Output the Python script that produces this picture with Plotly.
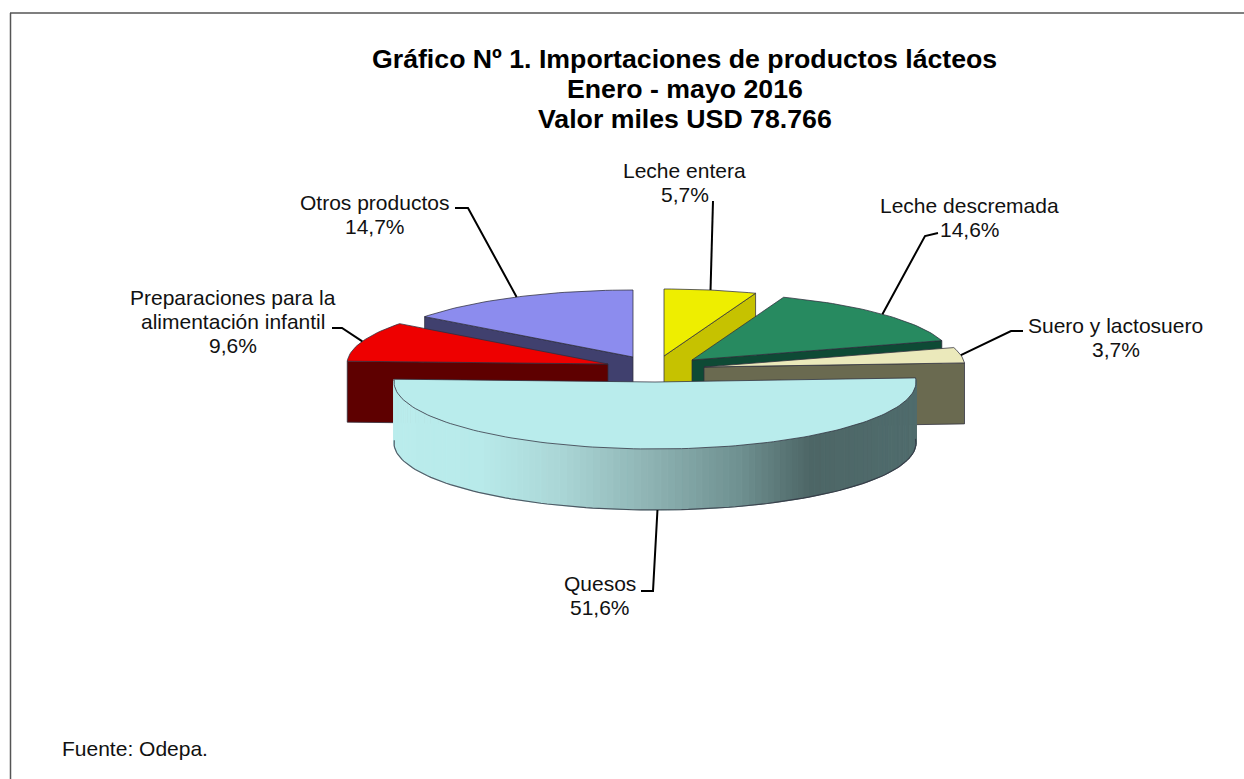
import math
import plotly.graph_objects as go

# ---- data ----
categories = [["Leche entera"], ["Leche descremada"], ["Suero y lactosuero"], ["Quesos"],
              ["Preparaciones para la", "alimentación infantil"], ["Otros productos"]]
shares = [5.7, 14.6, 3.7, 51.6, 9.6, 14.7]
share_labels = ["5,7%", "14,6%", "3,7%", "51,6%", "9,6%", "14,7%"]
title_lines = ["Gráfico Nº 1. Importaciones de productos lácteos", "Enero - mayo 2016", "Valor miles USD 78.766"]
source_note = "Fuente: Odepa."

# ---- style / layout ----
W, H = 1244, 779
FONT = "Liberation Sans, Arial, sans-serif"
CENTER = (650, 360)
RX, RY, DEPTH = 261, 67, 61
PULL_X = [14, 42, 54, 5, -42, -17]      # explode vector of each slice
PULL_Y = [-4, 0, 7, 22, 4, -3]
TOP_COL = ["#eeee00", "#278a60", "#ebe9bb", "#b9ecec", "#ee0000", "#8c8cee"]
SIDE_COL = ["#c6c200", "#0e4a35", "#6a6a50", None, "#5e0000", "#40406e"]
CUT_FACE = ["end", "end", "end", None, "start", "start"]
DRAW_ORDER = [0, 5, 1, 4, 2, 3]
EDGE = "rgba(45,45,60,0.75)"
GRADIENT = [(395, (186, 236, 236)), (480, (184, 234, 234)), (560, (170, 214, 214)),
            (650, (142, 179, 179)), (740, (110, 144, 144)), (810, (77, 102, 102)),
            (916, (80, 108, 109))]
LABEL_X = [684.5, 969.5, 1115.5, 600, 232.5, 374.5]      # text centre of each label
LABEL_Y = [170, 205, 325, 583, 297, 202]         # centre of each label's first line
LABEL_LINE_STEP = 24
LABEL_SIZE = 21
TITLE_SIZE = 26.7
TITLE_X, TITLE_Y, TITLE_STEP = 684.5, 59, 30
LEADER_ELBOWS = [[(713, 201)],
                 [(925, 236), (938, 233)],
                 [(1011, 331), (1023, 331)],
                 [(653, 591), (641, 591)],
                 [(342, 328), (332, 328)],
                 [(468, 208), (455, 208)]]

total = sum(shares)
bounds = [0.0]
for s in shares:
    bounds.append(bounds[-1] + 360.0 * s / total)
apex = [(CENTER[0] + px, CENTER[1] + py) for px, py in zip(PULL_X, PULL_Y)]


def rim(i, deg):
    t = math.radians(deg)
    return apex[i][0] + RX * math.sin(t), apex[i][1] - RY * math.cos(t)


def grad_col(x):
    for (x0, c0), (x1, c1) in zip(GRADIENT, GRADIENT[1:]):
        if x <= x1:
            f = max(0.0, (x - x0) / (x1 - x0))
            return "rgb(%d,%d,%d)" % tuple(round(a + (b - a) * f) for a, b in zip(c0, c1))
    return "rgb(%d,%d,%d)" % GRADIENT[-1][1]


def poly(xs, ys, fill, line=None, width=1.0):
    return go.Scatter(x=xs, y=ys, mode="lines", fill="toself", fillcolor=fill,
                      line=dict(color=line or fill, width=width), hoverinfo="skip", showlegend=False)


fig = go.Figure()
for i in DRAW_ORDER:
    a0, a1 = bounds[i], bounds[i + 1]
    n = max(8, int((a1 - a0) / 1.5))
    angs = [a0 + (a1 - a0) * k / n for k in range(n + 1)]
    arc = [rim(i, a) for a in angs]
    ax, ay = apex[i]
    if CUT_FACE[i]:
        ex, ey = rim(i, a1 if CUT_FACE[i] == "end" else a0)
        fig.add_trace(poly([ax, ex, ex, ax, ax], [ay, ey, ey + DEPTH, ay + DEPTH, ay],
                           SIDE_COL[i], EDGE))
    else:
        # curved outer wall, shaded strip by strip
        for (x0, y0), (x1, y1) in zip(arc, arc[1:]):
            c = grad_col((x0 + x1) / 2)
            fig.add_trace(poly([x0, x1, x1, x0, x0], [y0, y1, y1 + DEPTH, y0 + DEPTH, y0], c, c, 1.0))
        fig.add_trace(go.Scatter(x=[p[0] for p in arc], y=[p[1] + DEPTH for p in arc], mode="lines",
                                 line=dict(color=EDGE, width=1.2), hoverinfo="skip", showlegend=False))
    fig.add_trace(poly([ax] + [p[0] for p in arc] + [ax], [ay] + [p[1] for p in arc] + [ay],
                       TOP_COL[i], EDGE))

# leader lines start on the rim at each slice's mid-angle
for i, elbows in enumerate(LEADER_ELBOWS):
    mx, my = rim(i, (bounds[i] + bounds[i + 1]) / 2)
    if i == 3:
        my += DEPTH
    pts = [(mx, my)] + elbows
    fig.add_trace(go.Scatter(x=[p[0] for p in pts], y=[p[1] for p in pts], mode="lines",
                             line=dict(color="black", width=2), hoverinfo="skip", showlegend=False))


def text_at(x, y, text, size, anchor="center", weight="normal", color="#111111"):
    return dict(x=x, y=y, xref="x", yref="y", text=text, showarrow=False, xanchor=anchor, yanchor="middle",
                font=dict(family=FONT, size=size, color=color, weight=weight))


annotations = []
for k, line in enumerate(title_lines):
    annotations.append(text_at(TITLE_X, TITLE_Y + k * TITLE_STEP, line, TITLE_SIZE, weight="bold", color="black"))
for names, value, x, y in zip(categories, share_labels, LABEL_X, LABEL_Y):
    for k, line in enumerate(names + [value]):
        annotations.append(text_at(x, y + k * LABEL_LINE_STEP, line, LABEL_SIZE))
annotations.append(text_at(60, 748, source_note, LABEL_SIZE, anchor="left"))

fig.update_layout(
    width=W, height=H, margin=dict(l=0, r=0, t=0, b=0), autosize=False,
    paper_bgcolor="white", plot_bgcolor="white", showlegend=False,
    xaxis=dict(range=[0, W], visible=False, fixedrange=True),
    yaxis=dict(range=[H, 0], visible=False, fixedrange=True),
    annotations=annotations,
    shapes=[dict(type="line", xref="x", yref="y", x0=10.5, x1=10.5, y0=13, y1=H, line=dict(color="#555555", width=1.5)),
            dict(type="line", xref="x", yref="y", x0=10, x1=W, y0=13, y1=13, line=dict(color="#555555", width=1.5))],
)
fig.write_html("out.html", config=dict(displayModeBar=False),
               post_script="document.body.style.margin='0';document.documentElement.style.overflow='hidden';")
